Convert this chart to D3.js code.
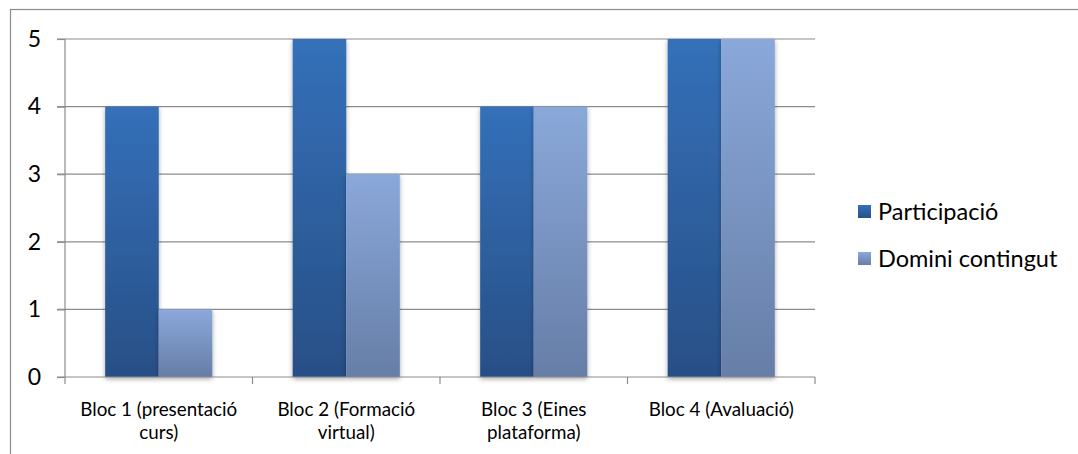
<!DOCTYPE html>
<html><head><meta charset="utf-8">
<script src="https://cdn.jsdelivr.net/npm/d3@7"></script>
<style>body{margin:0;background:#fff}svg{display:block}text{font-family:Lato,"Open Sans",sans-serif;fill:#000}</style>
</head><body><svg id="c" width="1078" height="454"></svg>
<script>
const categories = [["Bloc 1 (presentació","curs)"],["Bloc 2 (Formació","virtual)"],["Bloc 3 (Eines","plataforma)"],["Bloc 4 (Avaluació)"]];
const seriesNames = ["Participació","Domini contingut"];
const participacio = [4,5,4,5];
const domini = [1,3,4,5];
const yTicks = [0,1,2,3,4,5];

(function(){
const svg = d3.select("#c");
const defs = svg.append("defs");
const g1 = defs.append("linearGradient").attr("id","g1").attr("x1",0).attr("y1",0).attr("x2",0).attr("y2",1);
g1.append("stop").attr("offset","0%").attr("stop-color","#3470b9");
g1.append("stop").attr("offset","100%").attr("stop-color","#284f86");
const g2 = defs.append("linearGradient").attr("id","g2").attr("x1",0).attr("y1",0).attr("x2",0).attr("y2",1);
g2.append("stop").attr("offset","0%").attr("stop-color","#8aa8da");
g2.append("stop").attr("offset","100%").attr("stop-color","#667ea7");
const sh = defs.append("filter").attr("id","sh").attr("x","-20%").attr("y","-5%").attr("width","140%").attr("height","115%");
sh.append("feGaussianBlur").attr("in","SourceAlpha").attr("stdDeviation",2.5);
sh.append("feOffset").attr("dx",0).attr("dy",2).attr("result","b");
sh.append("feComponentTransfer").append("feFuncA").attr("type","linear").attr("slope",0.35);
const m = sh.append("feMerge"); m.append("feMergeNode"); m.append("feMergeNode").attr("in","SourceGraphic");

// chart frame
svg.append("rect").attr("x",10.5).attr("y",9.5).attr("width",1080).attr("height",460).attr("fill","none").attr("stroke","#8c8c8c").attr("stroke-width",1.2);

const pLeft=65, pRight=815, pTop=39, pBottom=377;
const x = d3.scaleBand().domain(d3.range(categories.length)).range([pLeft,pRight]).paddingInner(0).paddingOuter(0);
const y = d3.scaleLinear().domain([0,5]).range([pBottom,pTop]);
const color = ["url(#g1)","url(#g2)"];

// gridlines
svg.append("g").selectAll("line").data(yTicks.filter(d=>d>0)).join("line")
  .attr("x1",pLeft-8).attr("x2",pRight).attr("y1",d=>y(d)).attr("y2",d=>y(d))
  .attr("stroke","#8c8c8c").attr("stroke-width",1.2);

// bars
const bw = x.bandwidth()/3.5;
const data = [participacio, domini];
const gb = svg.append("g");
categories.forEach((c,i)=>{
  data.forEach((s,j)=>{
    gb.append("rect")
      .attr("x", x(i) + x.bandwidth()/2 - bw + j*bw)
      .attr("y", y(s[i])).attr("width", bw).attr("height", y(0)-y(s[i]))
      .attr("fill", color[j]).attr("filter","url(#sh)");
  });
});

// y axis
const ya = d3.axisLeft(y).tickValues(yTicks).tickSize(8).tickFormat(d3.format("d"));
const yg = svg.append("g").attr("transform",`translate(${pLeft},0)`).call(ya);
yg.select(".domain").attr("stroke","#8c8c8c").attr("stroke-width",1.2).attr("d",`M0,${pTop}V${pBottom}`);
yg.selectAll(".tick line").attr("stroke","#8c8c8c").attr("stroke-width",1.2);
yg.selectAll(".tick text").attr("x",-24).attr("font-size",23).attr("font-family","Lato, sans-serif").attr("fill","#000");

// x axis
const xg = svg.append("g");
xg.append("line").attr("x1",pLeft-8).attr("x2",pRight).attr("y1",pBottom).attr("y2",pBottom).attr("stroke","#8c8c8c").attr("stroke-width",1.2);
const edges = d3.range(categories.length+1).map(i=> i<categories.length ? x(i) : x(i-1)+x.bandwidth());
xg.selectAll("line.t").data(edges).join("line").attr("class","t")
  .attr("x1",d=>d).attr("x2",d=>d).attr("y1",pBottom).attr("y2",pBottom+7).attr("stroke","#8c8c8c").attr("stroke-width",1.2);
categories.forEach((lines,i)=>{
  lines.forEach((ln,k)=>{
    xg.append("text").attr("text-anchor","middle").attr("font-size",18.8)
      .attr("x", x(i)+x.bandwidth()/2).attr("y", 416 + k*23).text(ln);
  });
});

// legend
const lg = svg.append("g");
seriesNames.forEach((n,i)=>{
  const yy = 212 + i*47;
  lg.append("rect").attr("x",858).attr("y",yy-7).attr("width",13).attr("height",13).attr("fill",color[i]);
  lg.append("text").attr("x",878).attr("y",yy+8).attr("font-size",23.5).text(n);
});
})();
</script></body></html>
